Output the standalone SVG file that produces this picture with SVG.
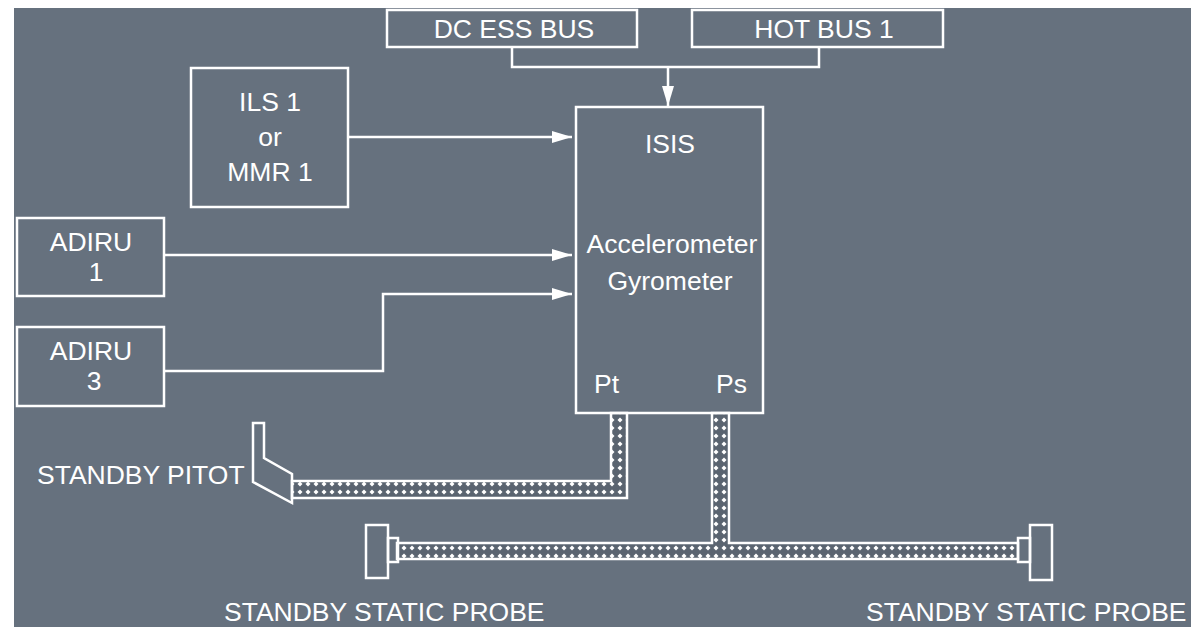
<svg xmlns="http://www.w3.org/2000/svg" width="1200" height="634" viewBox="0 0 1200 634">
<style>
.b{fill:none;stroke:#fff;stroke-width:2.5}
.c{fill:none;stroke:#fff;stroke-width:2.5}
.t{font-family:"Liberation Sans",Arial,sans-serif;font-size:26.5px;fill:#fff}
.m{text-anchor:middle}
.p{fill:url(#hatch);stroke:#fff;stroke-width:2.5}
</style>
<defs>
<marker id="a" viewBox="0 0 20 12" refX="20" refY="6" markerWidth="20" markerHeight="12" markerUnits="userSpaceOnUse" orient="auto"><path d="M0,0L20,6L0,12z" fill="#fff"/></marker>
<pattern id="hatch" width="8" height="8" patternUnits="userSpaceOnUse"><rect width="8" height="8" fill="#5a6470"/><path d="M4,1.5L6.5,4L4,6.5L1.5,4z" fill="#fff"/></pattern>
</defs>
<rect width="1200" height="634" fill="#fff"/>
<rect x="14" y="8" width="1177" height="619" fill="#66717e"/>
<g id="connectors">
<path class="c" d="M512,47V67H819V47"/>
<path class="c" d="M668,67V106" marker-end="url(#a)"/>
<path class="c" d="M348,137H572" marker-end="url(#a)"/>
<path class="c" d="M164,255H572" marker-end="url(#a)"/>
<path class="c" d="M164,371H383V294H572" marker-end="url(#a)"/>
<path class="p" d="M292,481H611V413H627V498H292z"/>
<path class="p" d="M397,543H712V413H729V543H1018V559H397z"/>
</g>
<g id="dc"><rect class="b" x="387" y="10" width="250" height="37"/><text class="t m" x="514" y="38">DC ESS BUS</text></g>
<g id="hot"><rect class="b" x="692" y="10" width="251" height="37"/><text class="t m" x="824" y="38">HOT BUS 1</text></g>
<g id="ils"><rect class="b" x="191" y="68" width="157" height="139"/><text class="t m" x="270" y="111">ILS 1</text><text class="t m" x="270" y="146">or</text><text class="t m" x="270" y="181">MMR 1</text></g>
<g id="adiru1"><rect class="b" x="17" y="218" width="147" height="78"/><text class="t m" x="91" y="251">ADIRU</text><text class="t m" x="96" y="281">1</text></g>
<g id="adiru3"><rect class="b" x="17" y="327" width="147" height="79"/><text class="t m" x="91" y="360">ADIRU</text><text class="t m" x="94" y="390">3</text></g>
<g id="isis"><rect class="b" x="576" y="107" width="187" height="306"/><text class="t m" x="670" y="153">ISIS</text><text class="t m" x="672" y="253">Accelerometer</text><text class="t m" x="670" y="290">Gyrometer</text><text class="t" x="594" y="393">Pt</text><text class="t" x="716" y="393">Ps</text></g>
<g id="pitot"><path class="b" d="M253,423H264V458L292,474V503L253,482z"/><text class="t" x="37" y="484">STANDBY PITOT</text></g>
<g id="static1"><rect class="b" x="366" y="525" width="22" height="53"/><rect class="b" x="388" y="538" width="10" height="24"/><text class="t" x="224" y="621">STANDBY STATIC PROBE</text></g>
<g id="static2"><rect class="b" x="1030" y="525" width="22" height="55"/><rect class="b" x="1018" y="538" width="12" height="24"/><text class="t" x="866" y="621">STANDBY STATIC PROBE</text></g>
</svg>
